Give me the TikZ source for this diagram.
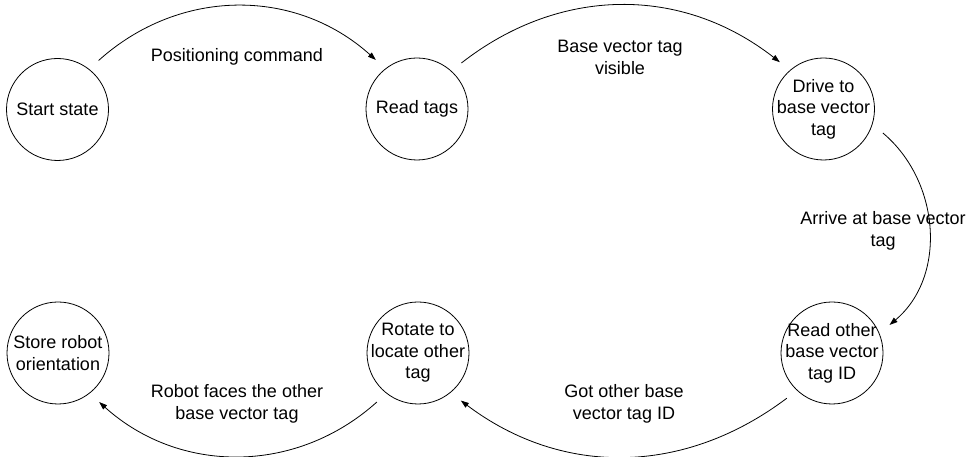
\documentclass[tikz,border=0pt]{standalone}
\usepackage{fontspec}
\setmainfont{Liberation Sans}
\usetikzlibrary{arrows.meta}
\begin{document}
\begin{tikzpicture}[x=1pt,y=1pt,
  state/.style={circle, draw, line width=0.8pt, minimum size=102pt, inner sep=0pt, outer sep=13pt},
  statetext/.style={align=center, inner sep=0pt, font=\fontsize{18}{21.5}\selectfont},
  edgetext/.style={align=center, inner sep=0pt, font=\fontsize{18}{21.5}\selectfont},
  trans/.style={line width=0.8pt, -{Triangle[length=8pt,width=5.5pt]}}]
\useasboundingbox (0,0) rectangle (973,457);

% states
\node[state, label={[statetext]center:Start state}] (S) at (57.5,347.5) {};
\node[state, label={[statetext]center:Read tags}] (R) at (417,348) {};
\node[state, label={[statetext]center:Drive to\\base vector\\tag}] (D) at (823.5,348) {};
\node[state, label={[statetext]center:Read other\\base vector\\tag ID}] (O) at (832,104) {};
\node[state, label={[statetext]center:Rotate to\\locate other\\tag}] (T) at (418,104) {};
\node[state, label={[statetext]center:Store robot\\orientation}] (St) at (58,104) {};

% transitions
\draw[trans] (S.50) to[out=42, in=138] (R.130);
\draw[trans] (R.46) to[out=38, in=142] (D.133);
\draw[trans] (D.-22) to[out=-40, in=40] (O.26);
\draw[trans] (O.-135) to[out=-143, in=-37] (T.-48);
\draw[trans] (T.-130) to[out=-138, in=-42] (St.-50);

% transition labels
\node[edgetext] (l1) at (237,400) {Positioning command};
\node[edgetext] (l2) at (620,399.5) {Base vector tag\\visible};
\node[edgetext] (l3) at (883,226) {Arrive at base vector\\tag};
\node[edgetext] (l4) at (624,53) {Got other base\\vector tag ID};
\node[edgetext] (l5) at (237,53) {Robot faces the other\\base vector tag};
\end{tikzpicture}
\end{document}
